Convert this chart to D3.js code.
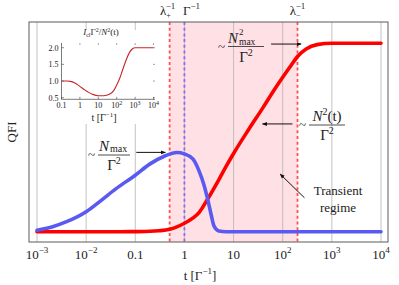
<!DOCTYPE html>
<html>
<head>
<meta charset="utf-8">
<script src="https://d3js.org/d3.v7.min.js"></script>
<title>QFI vs t</title>
<style>
body { margin: 0; background: #fff; }
svg { display: block; font-family: "Liberation Serif", "DejaVu Serif", serif; }
</style>
</head>
<body>
<svg width="399" height="285"></svg>
<script>

// main curves (QFI in arbitrary units, red plateau = 100)
const tRed = [0.001, 0.05, 0.1, 0.2, 0.3, 0.5, 0.7, 1, 1.5, 2, 3, 5, 7, 10, 20, 40, 70, 100, 150, 200, 300, 500, 1000, 10000];
const qRed = [0, 0, 0.05, 0.2, 0.5, 1.3, 2.6, 4.5, 7.3, 10.3, 17.5, 27.5, 34.5, 41.5, 54, 66, 76, 82, 88.5, 93, 97, 99.3, 100, 100];
const tBlue = [0.001, 0.002, 0.004, 0.01, 0.02, 0.04, 0.1, 0.2, 0.4, 0.7, 1, 1.5, 2, 2.5, 3, 3.5, 4, 5, 7, 10000];
const qBlue = [0.8, 2.5, 5.3, 10.6, 16.5, 22.7, 30, 36, 40.2, 42, 41.3, 38.5, 32, 24.8, 16.8, 9, 3, 0.4, 0, 0];

// inset: I_cl Gamma^2 / N^2(t)
const tInset = [0.1, 0.2, 0.3, 0.5, 0.7, 1, 2, 3, 5, 10, 20, 40, 70, 100, 150, 200, 300, 500, 700, 1000, 10000];
const vInset = [1, 1, 0.99, 0.95, 0.9, 0.84, 0.72, 0.66, 0.6, 0.56, 0.56, 0.6, 0.72, 0.88, 1.1, 1.3, 1.58, 1.86, 1.96, 2.0, 2.0];

// ticks
const xTicks = [1e-3, 1e-2, 0.1, 1, 10, 1e2, 1e3, 1e4];
const xTickBase = ["10", "10", "0.1", "1", "10", "10", "10", "10"];
const xTickExp = ["\u22123", "\u22122", "", "", "", "2", "3", "4"];
const insetXTicks = [0.1, 1, 10, 1e2, 1e3, 1e4];
const insetXBase = ["0.1", "1", "10", "10", "10", "10"];
const insetXExp = ["", "", "", "2", "3", "4"];
const insetYTicks = [0.5, 1.0, 1.5, 2.0];

// time scales
const lambdaPlusInv = 0.5;
const gammaInv = 1;
const lambdaMinusInv = 200;

const svg = d3.select("svg");

// frame
const fx0 = 29, fx1 = 388, fy0 = 22, fy1 = 242;
const x = d3.scaleLog().domain([1e-3, 1e4]).range([37, 381]);
const y = d3.scaleLinear().domain([0, 100]).range([231.7, 43.3]);

// transient region
svg.append("rect")
  .attr("x", x(lambdaPlusInv)).attr("y", fy0)
  .attr("width", x(lambdaMinusInv) - x(lambdaPlusInv))
  .attr("height", fy1 - fy0)
  .attr("fill", "#ffe0e4");

// grid
svg.selectAll("line.grid").data(xTicks).enter().append("line")
  .attr("class", "grid")
  .attr("x1", d => x(d)).attr("x2", d => x(d))
  .attr("y1", fy0).attr("y2", fy1)
  .attr("stroke", "#b4b4b4").attr("stroke-width", 0.8);

// inset background (hides grid)
svg.append("rect")
  .attr("x", 39).attr("y", 30).attr("width", 122).attr("height", 94)
  .attr("fill", "#fff");

// dotted markers
function vmark(t, color) {
  svg.append("line")
    .attr("x1", x(t)).attr("x2", x(t))
    .attr("y1", fy0).attr("y2", fy1)
    .attr("stroke", color).attr("stroke-width", 1.8)
    .attr("stroke-dasharray", "3,2.7");
}
vmark(lambdaPlusInv, "#ff5050");
vmark(gammaInv, "#8a6cf0");
vmark(lambdaMinusInv, "#ff5050");

// curves
const line = d3.line()
  .x(d => x(d[0])).y(d => y(d[1]))
  .curve(d3.curveMonotoneX);

svg.append("path")
  .datum(d3.zip(tRed, qRed))
  .attr("d", line)
  .attr("fill", "none").attr("stroke", "#ff0000")
  .attr("stroke-width", 3.6).attr("stroke-linecap", "round");

svg.append("path")
  .datum(d3.zip(tBlue, qBlue))
  .attr("d", line)
  .attr("fill", "none").attr("stroke", "#5a5af2")
  .attr("stroke-width", 3.6).attr("stroke-linecap", "round");

// frame
svg.append("rect")
  .attr("x", fx0).attr("y", fy0)
  .attr("width", fx1 - fx0).attr("height", fy1 - fy0)
  .attr("fill", "none").attr("stroke", "#5a5a5a").attr("stroke-width", 1);

// x tick labels
const xl = svg.selectAll("text.xtick").data(xTicks).enter().append("text")
  .attr("class", "xtick")
  .attr("x", d => x(d)).attr("y", 259)
  .attr("text-anchor", "middle")
  .attr("font-size", 13).attr("fill", "#222");
xl.append("tspan").text((d, i) => xTickBase[i]);
xl.append("tspan").attr("dy", -6).attr("font-size", 9).text((d, i) => xTickExp[i]);

// axis labels
const xlab = svg.append("text").attr("x", 200).attr("y", 280)
  .attr("text-anchor", "middle").attr("font-size", 13).attr("fill", "#222");
xlab.append("tspan").text("t [\u0393");
xlab.append("tspan").attr("dy", -6).attr("font-size", 9).text("\u22121");
xlab.append("tspan").attr("dy", 6).text("]");

svg.append("text")
  .attr("transform", "translate(16,132) rotate(-90)")
  .attr("text-anchor", "middle").attr("font-size", 13).attr("fill", "#222")
  .text("QFI");

// top labels
function topLabel(cx, base, sub, sup) {
  const t = svg.append("text").attr("x", cx).attr("y", 15)
    .attr("text-anchor", "middle").attr("font-size", 13).attr("fill", "#222");
  t.append("tspan").text(base);
  if (sub) {
    t.append("tspan").attr("dy", 3).attr("font-size", 8).text(sub);
    t.append("tspan").attr("dx", -5).attr("dy", -9).attr("font-size", 9).text(sup);
  } else {
    t.append("tspan").attr("dy", -6).attr("font-size", 9).text(sup);
  }
}
topLabel(x(lambdaPlusInv) - 2, "\u03bb", "+", "\u22121");
topLabel(x(gammaInv) + 7, "\u0393", null, "\u22121");
topLabel(x(lambdaMinusInv), "\u03bb", "\u2212", "\u22121");

// arrows
svg.append("defs").append("marker")
  .attr("id", "ah").attr("viewBox", "0 0 10 10")
  .attr("refX", 9).attr("refY", 5)
  .attr("markerWidth", 5).attr("markerHeight", 5)
  .attr("orient", "auto")
  .append("path").attr("d", "M0,1 L10,5 L0,9 z").attr("fill", "#111");

function arrow(t1, q1, t2, q2) {
  svg.append("line")
    .attr("x1", x(t1)).attr("y1", y(q1))
    .attr("x2", x(t2)).attr("y2", y(q2))
    .attr("stroke", "#111").attr("stroke-width", 1)
    .attr("marker-end", "url(#ah)");
}
arrow(58, 99.6, 237, 99.6);
arrow(158, 57.2, 38.7, 57.2);
arrow(0.105, 42.1, 0.41, 42.1);
arrow(277, 18, 88.6, 30.6);

// fractions
function fraction(cx, barY, num, den, wBar) {
  const g = svg.append("g").attr("fill", "#222");
  g.append("text").attr("x", cx - wBar / 2 - 3).attr("y", barY + 4)
    .attr("text-anchor", "end").attr("font-size", 13).text("~");
  g.append("line").attr("x1", cx - wBar / 2).attr("x2", cx + wBar / 2)
    .attr("y1", barY).attr("y2", barY).attr("stroke", "#222").attr("stroke-width", 0.8);
  num(g, cx, barY - 4);
  const d = g.append("text").attr("x", cx).attr("y", barY + 15)
    .attr("text-anchor", "middle").attr("font-size", 15);
  d.append("tspan").text("\u0393");
  d.append("tspan").attr("dy", -6).attr("font-size", 10).text(den);
}

fraction(246, 46.5, (g, cx, by) => {
  g.append("text").attr("x", cx - 8).attr("y", by).attr("text-anchor", "end")
    .attr("font-size", 15).attr("font-style", "italic").text("N");
  g.append("text").attr("x", cx - 7).attr("y", by - 8).attr("font-size", 9).text("2");
  g.append("text").attr("x", cx - 7).attr("y", by + 2).attr("font-size", 9.5).text("max");
}, "2", 36);

fraction(327, 125, (g, cx, by) => {
  const t = g.append("text").attr("x", cx).attr("y", by).attr("text-anchor", "middle")
    .attr("font-size", 15);
  t.append("tspan").attr("font-style", "italic").text("N");
  t.append("tspan").attr("dy", -6).attr("font-size", 10).text("2");
  t.append("tspan").attr("dy", 6).text("(t)");
}, "2", 36);

fraction(114, 155, (g, cx, by) => {
  g.append("text").attr("x", cx - 5).attr("y", by).attr("text-anchor", "end")
    .attr("font-size", 15).attr("font-style", "italic").text("N");
  g.append("text").attr("x", cx - 4).attr("y", by + 1).attr("font-size", 10).text("max");
}, "2", 32);

// transient regime label
svg.append("text").attr("x", 338).attr("y", 195).attr("text-anchor", "middle")
  .attr("font-size", 13).attr("fill", "#222").text("Transient");
svg.append("text").attr("x", 338).attr("y", 212).attr("text-anchor", "middle")
  .attr("font-size", 13).attr("fill", "#222").text("regime");

// ---- inset ----
const ix = d3.scaleLog().domain([0.1, 1e4]).range([61.5, 153.5]);
const iy = d3.scaleLinear().domain([0.5, 2.0]).range([97.7, 47.7]);
const ix0 = 61.5, ix1 = 155, iy0 = 43, iy1 = 99.3;
const ins = svg.append("g").attr("fill", "#222");

ins.append("line").attr("x1", ix0).attr("x2", ix0).attr("y1", iy0).attr("y2", iy1)
  .attr("stroke", "#444").attr("stroke-width", 0.7);
ins.append("line").attr("x1", ix0).attr("x2", ix1).attr("y1", iy1).attr("y2", iy1)
  .attr("stroke", "#444").attr("stroke-width", 0.7);

// ticks on all four sides
insetYTicks.forEach(v => {
  ins.append("line").attr("x1", ix0).attr("x2", ix0 + 2.5).attr("y1", iy(v)).attr("y2", iy(v))
    .attr("stroke", "#444").attr("stroke-width", 0.6);
  ins.append("line").attr("x1", ix1).attr("x2", ix1 - 2).attr("y1", iy(v)).attr("y2", iy(v))
    .attr("stroke", "#666").attr("stroke-width", 0.6);
  ins.append("text").attr("x", ix0 - 3).attr("y", iy(v) + 2.8).attr("text-anchor", "end")
    .attr("font-size", 8).text(v.toFixed(1));
});
insetXTicks.forEach((t, i) => {
  ins.append("line").attr("x1", ix(t)).attr("x2", ix(t)).attr("y1", iy1).attr("y2", iy1 - 2.5)
    .attr("stroke", "#444").attr("stroke-width", 0.6);
  ins.append("line").attr("x1", ix(t)).attr("x2", ix(t)).attr("y1", iy0).attr("y2", iy0 + 2)
    .attr("stroke", "#666").attr("stroke-width", 0.6);
  const tx = ins.append("text").attr("x", ix(t)).attr("y", 108).attr("text-anchor", "middle")
    .attr("font-size", 8);
  tx.append("tspan").text(insetXBase[i]);
  if (insetXExp[i]) tx.append("tspan").attr("dy", -3.5).attr("font-size", 6).text(insetXExp[i]);
});

ins.append("path")
  .datum(d3.zip(tInset, vInset))
  .attr("d", d3.line().x(d => ix(d[0])).y(d => iy(d[1])).curve(d3.curveMonotoneX))
  .attr("fill", "none").attr("stroke", "#c4262a").attr("stroke-width", 1.1);

const ixl = ins.append("text").attr("x", 104).attr("y", 121).attr("text-anchor", "middle")
  .attr("font-size", 10);
ixl.append("tspan").text("t [\u0393");
ixl.append("tspan").attr("dy", -4).attr("font-size", 7).text("\u22121");
ixl.append("tspan").attr("dy", 4).text("]");

const ititle = ins.append("text").attr("x", 101).attr("y", 35).attr("text-anchor", "middle")
  .attr("font-size", 9);
ititle.append("tspan").attr("font-style", "italic").text("I");
ititle.append("tspan").attr("dy", 2).attr("font-size", 6).text("cl");
ititle.append("tspan").attr("dy", -2).text("\u0393");
ititle.append("tspan").attr("dy", -3.5).attr("font-size", 6).text("2");
ititle.append("tspan").attr("dy", 3.5).text("/");
ititle.append("tspan").attr("font-style", "italic").text("N");
ititle.append("tspan").attr("dy", -3.5).attr("font-size", 6).text("2");
ititle.append("tspan").attr("dy", 3.5).text("(t)");

</script>
</body>
</html>
